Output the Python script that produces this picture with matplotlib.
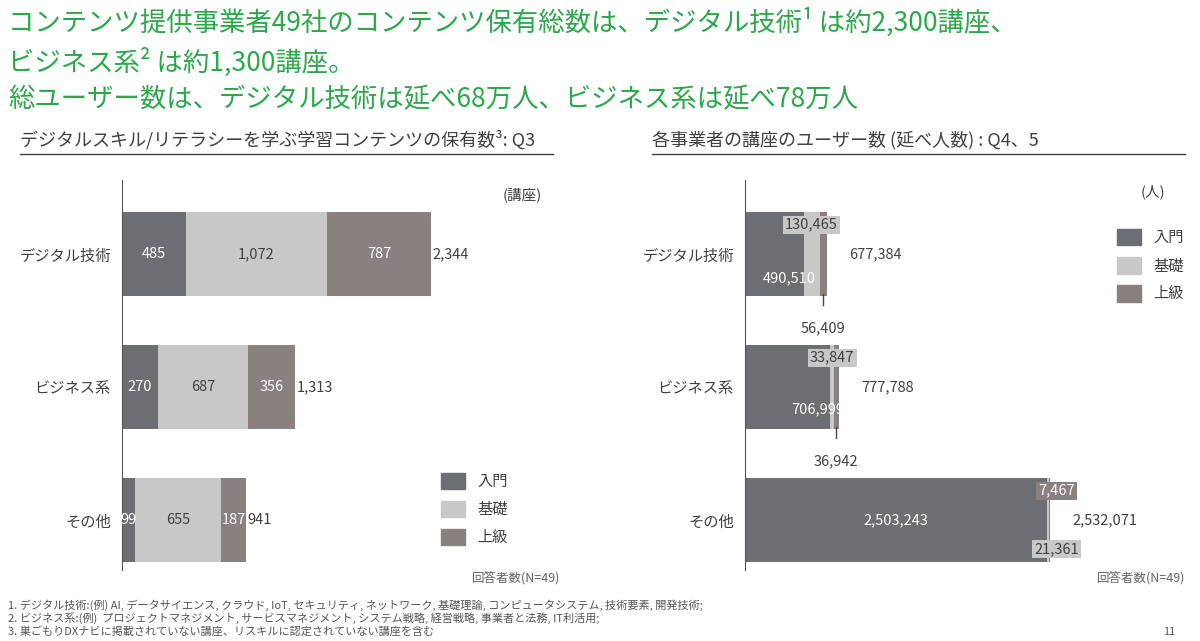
import matplotlib
matplotlib.use("Agg")
import matplotlib.pyplot as plt
from matplotlib.patches import Patch

plt.rcParams["font.family"] = ["Noto Sans CJK JP", "DejaVu Sans"]

categories = ["デジタル技術", "ビジネス系", "その他"]
levels = ["入門", "基礎", "上級"]
courses_intro = [485, 270, 99]
courses_basic = [1072, 687, 655]
courses_adv = [787, 356, 187]
users_intro = [490510, 706999, 2503243]
users_basic = [130465, 33847, 21361]
users_adv = [56409, 36942, 7467]
users_total = [677384, 777788, 2532071]

C_DARK = "#6d6e71"
C_LIGHT = "#c8c8c8"
C_MID = "#88817f"
GREEN = "#2aa84a"
TXT = "#404040"

W, H = 1200, 641
fig = plt.figure(figsize=(12, 6.41), dpi=100)
fig.patch.set_facecolor("white")


def px_axes(x0, y0, x1, y1):
    return fig.add_axes([x0 / W, 1 - y1 / H, (x1 - x0) / W, (y1 - y0) / H])


# titles
fig.text(8 / W, 1 - 22 / H, "コンテンツ提供事業者49社のコンテンツ保有総数は、デジタル技術¹ は約2,300講座、",
         color=GREEN, fontsize=19, va="center")
fig.text(8 / W, 1 - 62 / H, "ビジネス系² は約1,300講座。", color=GREEN, fontsize=19, va="center")
fig.text(8 / W, 1 - 100 / H, "総ユーザー数は、デジタル技術は延べ68万人、ビジネス系は延べ78万人",
         color=GREEN, fontsize=19, va="center")
fig.text(20 / W, 1 - 140 / H, "デジタルスキル/リテラシーを学ぶ学習コンテンツの保有数³: Q3",
         color=TXT, fontsize=13, va="center")
fig.text(652 / W, 1 - 140 / H, "各事業者の講座のユーザー数 (延べ人数) : Q4、5",
         color=TXT, fontsize=13, va="center")
fig.add_artist(plt.Line2D([20 / W, 553 / W], [1 - 154 / H] * 2, color=TXT, lw=1))
fig.add_artist(plt.Line2D([652 / W, 1185 / W], [1 - 154 / H] * 2, color=TXT, lw=1))

ypos = [0, 1, 2]
bh = 0.63


def setup(ax, xmax):
    ax.set_xlim(0, xmax)
    ax.set_ylim(2.376, -0.556)
    for s in ["top", "right", "bottom"]:
        ax.spines[s].set_visible(False)
    ax.spines["left"].set_color("#555555")
    ax.set_xticks([])
    ax.set_yticks(ypos)
    ax.set_yticklabels(categories, fontsize=11, color=TXT)
    ax.tick_params(axis="y", length=0, pad=8)


# left chart
ax1 = px_axes(122, 180, 560, 570)
setup(ax1, 2344 * 438 / 309)
left = [0, 0, 0]
for vals, c in [(courses_intro, C_DARK), (courses_basic, C_LIGHT), (courses_adv, C_MID)]:
    ax1.barh(ypos, vals, left=left, height=bh, color=c)
    for y, v, l in zip(ypos, vals, left):
        ax1.text(l + v / 2, y, f"{v:,}", ha="center", va="center", fontsize=10.5,
                 color="white" if c != C_LIGHT else TXT)
    left = [a + b for a, b in zip(left, vals)]
for y, t in zip(ypos, left):
    ax1.text(t + 12, y, f"{t:,}", ha="left", va="center", fontsize=10.5, color=TXT)
ax1.text(1.0 - 18 / 438, 1 - 15 / 390, "(講座)", transform=ax1.transAxes, fontsize=10.5,
         color=TXT, ha="right", va="center")
ax1.legend(handles=[Patch(color=c, label=l) for c, l in zip([C_DARK, C_LIGHT, C_MID], levels)],
           loc="lower left", bbox_to_anchor=(305 / 438, 10 / 390), frameon=False,
           fontsize=11, handlelength=1.6, handleheight=1.3, labelspacing=0.7, labelcolor=TXT)
ax1.text(1.0, -8 / 390, "回答者数(N=49)", transform=ax1.transAxes, fontsize=9,
         color="#666666", ha="right", va="center")

# right chart
ax2 = px_axes(745, 180, 1190, 570)
xmax2 = 2532071 * 445 / 305
setup(ax2, xmax2)
left = [0, 0, 0]
for vals, c in [(users_intro, C_DARK), (users_basic, C_LIGHT), (users_adv, C_MID)]:
    ax2.barh(ypos, vals, left=left, height=bh, color=c)
    left = [a + b for a, b in zip(left, vals)]
for y, t in zip(ypos, users_total):
    ax2.text(t + 0.05 * xmax2, y, f"{t:,}", ha="left", va="center", fontsize=10.5, color=TXT)

u = xmax2 / 445  # data per pixel
fs = 10.5
# デジタル技術
ax2.text(490510 / 2 + 15 * u, 0.18, f"{users_intro[0]:,}", ha="center", va="center", fontsize=fs, color="white")
ax2.text(490510 + 60000, -0.22, f"{users_basic[0]:,}", ha="center", va="center", fontsize=fs, color=TXT,
         bbox=dict(boxstyle="square,pad=0.15", fc=C_LIGHT, ec="none"))
ax2.plot([620919 + 28000] * 2, [0.3, 0.38], color="#444444", lw=1)
ax2.text(620919 + 28000, 0.56, f"{users_adv[0]:,}", ha="center", va="center", fontsize=fs, color=TXT)
# ビジネス系
ax2.text(706999 / 2 + 30 * u, 1.17, f"{users_intro[1]:,}", ha="center", va="center", fontsize=fs, color="white")
ax2.text(706999 + 17000, 0.78, f"{users_basic[1]:,}", ha="center", va="center", fontsize=fs, color=TXT,
         bbox=dict(boxstyle="square,pad=0.15", fc=C_LIGHT, ec="none"))
ax2.plot([740846 + 18000] * 2, [1.3, 1.38], color="#444444", lw=1)
ax2.text(740846 + 18000, 1.56, f"{users_adv[1]:,}", ha="center", va="center", fontsize=fs, color=TXT)
# その他
ax2.text(2503243 / 2, 2.0, f"{users_intro[2]:,}", ha="center", va="center", fontsize=fs, color="white")
ax2.text(2503243 + 10 * u, 1.78, f"{users_adv[2]:,}", ha="center", va="center", fontsize=fs, color="white",
         bbox=dict(boxstyle="square,pad=0.15", fc=C_MID, ec="none"))
ax2.text(2503243 + 10 * u, 2.22, f"{users_basic[2]:,}", ha="center", va="center", fontsize=fs, color=TXT,
         bbox=dict(boxstyle="square,pad=0.15", fc=C_LIGHT, ec="none"))

ax2.text(1.0 - 25 / 445, 1 - 12 / 390, "(人)", transform=ax2.transAxes, fontsize=10.5,
         color=TXT, ha="right", va="center")
ax2.legend(handles=[Patch(color=c, label=l) for c, l in zip([C_DARK, C_LIGHT, C_MID], levels)],
           loc="upper left", bbox_to_anchor=(358 / 445, 1 - 35 / 390), frameon=False,
           fontsize=11, handlelength=1.6, handleheight=1.3, labelspacing=0.7, labelcolor=TXT)
ax2.text(1.0 - 5 / 445, -8 / 390, "回答者数(N=49)", transform=ax2.transAxes, fontsize=9,
         color="#666666", ha="right", va="center")

# footnotes
notes = [
    "1. デジタル技術:(例) AI, データサイエンス, クラウド, IoT, セキュリティ, ネットワーク, 基礎理論, コンピュータシステム, 技術要素, 開発技術;",
    "2. ビジネス系:(例)  プロジェクトマネジメント, サービスマネジメント, システム戦略, 経営戦略, 事業者と法務, IT利活用;",
    "3. 巣ごもりDXナビに掲載されていない講座、リスキルに認定されていない講座を含む",
]
for i, n in enumerate(notes):
    fig.text(8 / W, 1 - (605 + i * 13) / H, n, fontsize=8, color="#555555", va="center")
fig.text(1175 / W, 1 - 632 / H, "11", fontsize=8, color="#555555", va="center", ha="right")

fig.savefig("out.png", dpi=100, facecolor="white")
